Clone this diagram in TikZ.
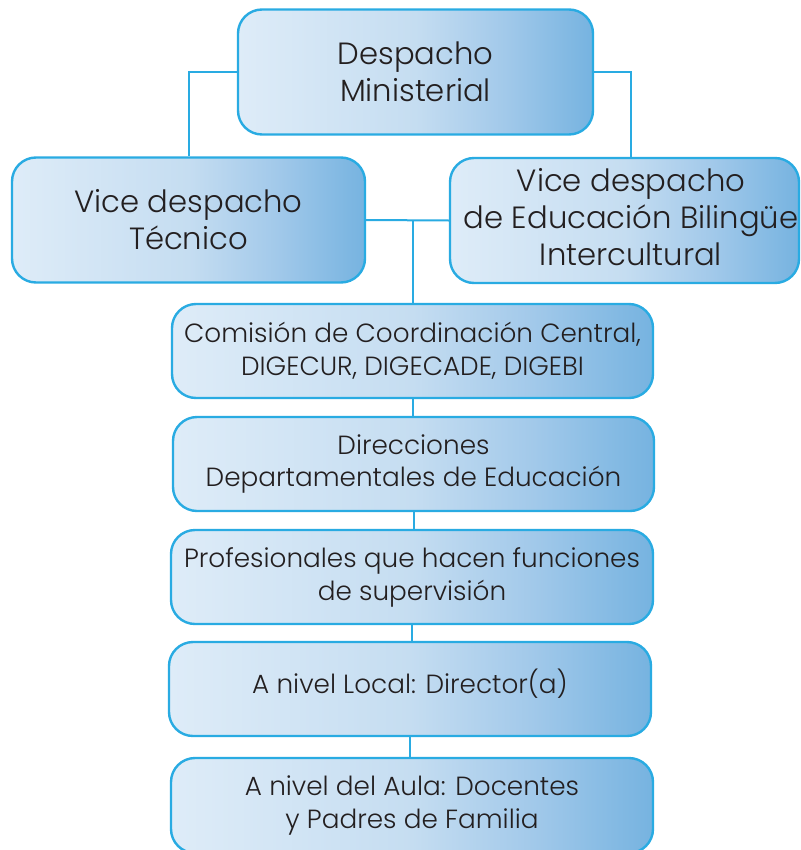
\documentclass[tikz,border=0pt]{standalone}
\usepackage{fontspec}
\setmainfont{Poppins}[UprightFont={* Light}]
\definecolor{bordc}{RGB}{41,171,226}
\definecolor{gA}{RGB}{222,236,248}
\definecolor{gB}{RGB}{197,221,241}
\definecolor{gC}{RGB}{162,201,234}
\definecolor{gD}{RGB}{118,179,224}
\definecolor{txtc}{RGB}{35,31,32}
\pgfdeclarehorizontalshading{boxshade}{100bp}{color(0bp)=(gA); color(25bp)=(gA); color(50bp)=(gB); color(62.5bp)=(gC); color(75bp)=(gD); color(100bp)=(gD)}
\tikzset{
  orgbox/.style={draw=bordc, line width=2.4bp, rounded corners=24bp, shade, shading=boxshade,
    text=txtc, align=center, inner sep=0pt},
  bigtxt/.style={font=\fontsize{30.8}{37}\selectfont},
  smalltxt/.style={font=\fontsize{26.4}{33}\selectfont},
  conn/.style={draw=bordc, line width=2bp},
}
\begin{document}
\begin{tikzpicture}[x=1bp,y=-1bp]
\useasboundingbox (0,0) rectangle (801,850);
\node[orgbox, bigtxt, minimum width=355bp, minimum height=125bp] (dm) at (415.5,72) {Despacho\\Ministerial};
\node[orgbox, bigtxt, minimum width=353bp, minimum height=125bp] (vt) at (188.5,220) {Vice despacho\\Técnico};
\node[orgbox, minimum width=349bp, minimum height=125bp] (vb) at (624.5,220.5) {};
\node[bigtxt, text=txtc, align=center, inner sep=0pt] (vbt) at (631,217) {Vice despacho\\de Educación Bilingüe\\Intercultural};
\node[orgbox, smalltxt, minimum width=481bp, minimum height=94bp] (cc) at (412.5,351) {Comisión de Coordinación Central,\\DIGECUR, DIGECADE, DIGEBI};
\node[orgbox, smalltxt, minimum width=481bp, minimum height=94bp] (dd) at (413.5,464) {Direcciones\\Departamentales de Educación};
\node[orgbox, smalltxt, minimum width=482bp, minimum height=94bp] (pf) at (412,577) {Profesionales que hacen funciones\\de supervisión};
\node[orgbox, smalltxt, minimum width=482bp, minimum height=94bp] (nl) at (410,689) {\raisebox{15bp}{A nivel Local: Director(a)}};
\node[orgbox, smalltxt, minimum width=482bp, minimum height=95bp] (au) at (412,805.5) {A nivel del Aula: Docentes\\y Padres de Familia};
\draw[conn] (dm.west) -| (vt.north);
\draw[conn] (dm.east) -| (vb.north -| vbt);
\draw[conn] (vt.east) -- (vb.west);
\coordinate (j) at (vt.east -| cc.north);
\draw[conn] (j) -- (cc.north);
\draw[conn] (cc.south) -- (cc.south |- dd.north);
\draw[conn] (dd.south) -- (dd.south |- pf.north);
\draw[conn] (pf.south) -- (pf.south |- nl.north);
\draw[conn] (nl.south) -- (nl.south |- au.north);
\end{tikzpicture}
\end{document}
